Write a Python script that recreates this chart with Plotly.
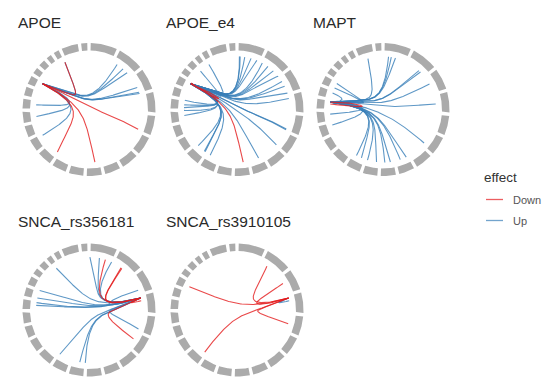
import numpy as np
import plotly.graph_objects as go

# ---------------- data ----------------
CHROMS = [str(i) for i in range(1, 23)] + ["X", "Y"]
CHROM_MB = [249, 243, 198, 191, 181, 171, 159, 146, 141, 136, 135, 134,
            115, 107, 103, 90, 81, 78, 59, 63, 48, 51, 155, 57]

PANELS = ["APOE", "APOE_e4", "MAPT", "SNCA_rs356181", "SNCA_rs3910105"]
# positions on the genome ring, degrees clockwise from 12 o'clock
SOURCE_POS = [299, 299, 278, 77, 77]
SOURCE_CHR = ["19", "19", "17", "4", "4"]

APOE_pos = [32, 40, 46, 65.5, 71, 72.5, 333, 275, 262.5, 241,
            333, 112, 173.6, 216.6]
APOE_eff = ["Up"] * 10 + ["Down"] * 4

APOE_e4_pos = [2.6, 3.4, 8.4, 15.4, 22, 28.5, 35.7, 43.3, 51, 58, 64, 72, 78,
               316.5, 328, 280, 275, 272, 269, 263.5, 227, 217, 218, 210.4,
               156, 132, 111.5, 112.5, 173.3, 300]
APOE_e4_eff = ["Up"] * 28 + ["Down"] * 2

MAPT_pos = [343.5, 6, 9, 13.6, 42.7, 45, 61.3, 84, 129.2, 154, 161, 172, 178,
            187, 197, 204, 210, 299.4, 294, 288, 265, 253, 276]
MAPT_eff = ["Up"] * 22 + ["Down"]

SNCA1_pos = [1, 11.3, 25.2, 68, 111, 322, 291.5, 283, 278, 275, 213.4, 190, 184,
             18, 37.2, 38.2, 123, 80]
SNCA1_eff = ["Up"] * 13 + ["Down"] * 5

SNCA2_pos = [80, 34.4, 60, 105, 296, 217.5]
SNCA2_eff = ["Up"] + ["Down"] * 5

TARGET_POS = [APOE_pos, APOE_e4_pos, MAPT_pos, SNCA1_pos, SNCA2_pos]
TARGET_EFF = [APOE_eff, APOE_e4_eff, MAPT_eff, SNCA1_eff, SNCA2_eff]

EFFECT_COLORS = {"Down": "rgba(228,26,28,0.8)", "Up": "rgba(55,126,184,0.8)"}
LEGEND_LINE = {"Down": "rgba(228,26,28,0.7)", "Up": "rgba(55,126,184,0.7)"}

# ---------------- layout geometry ----------------
# the page body has an 8px margin, so figure pixels = screen pixels - 8
OFF = 8
W, H = 550 - OFF, 384 - OFF
PX_PER_UNIT = 53.0
HALF = 1.3
CENTERS = [(89, 109.5), (237, 109.5), (383, 109.5), (89, 310), (237, 310)]
TITLE_X = [17, 165, 312, 17, 165]
TITLE_Y = [22, 22, 22, 221, 221]
GAP_DEG = 3.0
R_IN, R_OUT = 1.113, 1.255
RC = 0.5
TENSION = 0.8
FONT = "Liberation Sans, Arial, Helvetica, sans-serif"

scale = (360 - GAP_DEG * len(CHROMS)) / sum(CHROM_MB)
cum = np.concatenate([[0], np.cumsum(CHROM_MB)[:-1]])
seg_start = [GAP_DEG / 2 + GAP_DEG * i + cum[i] * scale for i in range(len(CHROMS))]
seg_end = [seg_start[i] + CHROM_MB[i] * scale for i in range(len(CHROMS))]
seg_mid = {CHROMS[i]: (seg_start[i] + seg_end[i]) / 2 for i in range(len(CHROMS))}


def px(sx):
    return (sx - OFF) / W


def py(sy):
    return 1 - (sy - OFF) / H


def pol(r, cw_deg):
    th = np.deg2rad(90 - np.asarray(cw_deg, float))
    return np.stack([r * np.cos(th), r * np.sin(th)], axis=-1)


def chrom_of(pos):
    for i in range(len(CHROMS)):
        if seg_start[i] - GAP_DEG / 2 <= pos < seg_end[i] + GAP_DEG / 2:
            return CHROMS[i]
    return CHROMS[-1]


def bspline(P, k, n=90):
    P = np.asarray(P, float)
    m = len(P)
    k = min(k, m - 1)
    inner = np.linspace(0, 1, m - k + 1)[1:-1]
    t = np.concatenate([np.zeros(k + 1), inner, np.ones(k + 1)])
    u = np.linspace(0, 1, n)
    u[-1] = 1 - 1e-9
    N = np.array([((t[i] <= u) & (u < t[i + 1])).astype(float) for i in range(len(t) - 1)])
    for d in range(1, k + 1):
        Nn = np.zeros((len(t) - 1 - d, n))
        for i in range(len(t) - 1 - d):
            a = t[i + d] - t[i]
            b = t[i + d + 1] - t[i + 1]
            term = np.zeros(n)
            if a > 0:
                term = term + (u - t[i]) / a * N[i]
            if b > 0:
                term = term + (t[i + d + 1] - u) / b * N[i + 1]
            Nn[i] = term
        N = Nn
    return N.T @ P


def edge_path(src_pos, src_chr, tgt_pos):
    S = pol(1.0, src_pos)
    T = pol(1.0, tgt_pos)
    tc = chrom_of(tgt_pos)
    Cs = pol(RC, seg_mid[src_chr])
    if tc == src_chr:
        P = np.array([S, Cs, T])
    else:
        Ct = pol(RC, seg_mid[tc])
        P = np.array([S, Cs, [0.0, 0.0], Ct, T])
    n = len(P)
    lin = np.array([S + (T - S) * i / (n - 1) for i in range(n)])
    P = TENSION * P + (1 - TENSION) * lin
    return bspline(P, 3)


fig = go.Figure()
layout_axes = {}
for p, name in enumerate(PANELS):
    cx, cy = CENTERS[p]
    hw = HALF * PX_PER_UNIT
    xd = [px(cx - hw), px(cx + hw)]
    yd = [py(cy + hw), py(cy - hw)]
    sfx = "" if p == 0 else str(p + 1)
    ax = dict(range=[-HALF, HALF], visible=False, fixedrange=True)
    layout_axes["xaxis" + sfx] = dict(ax, domain=xd)
    layout_axes["yaxis" + sfx] = dict(ax, domain=yd)
    xa, ya = "x" + sfx, "y" + sfx

    # ring segments (one annular sector per chromosome)
    xs, ys = [], []
    for i in range(len(CHROMS)):
        a = np.linspace(seg_start[i], seg_end[i], 30)
        outer = pol(R_OUT, a)
        inner = pol(R_IN, a[::-1])
        poly = np.vstack([outer, inner, outer[:1]])
        xs += list(poly[:, 0]) + [None]
        ys += list(poly[:, 1]) + [None]
    fig.add_trace(go.Scatter(x=xs, y=ys, mode="lines", fill="toself",
                             fillcolor="#ABABAB", line=dict(width=0, color="#ABABAB"),
                             hoverinfo="skip", showlegend=False, xaxis=xa, yaxis=ya))

    # edges: Up first, Down on top
    for eff in ["Up", "Down"]:
        for pos, e in zip(TARGET_POS[p], TARGET_EFF[p]):
            if e != eff:
                continue
            c = edge_path(SOURCE_POS[p], SOURCE_CHR[p], pos)
            fig.add_trace(go.Scatter(x=c[:, 0], y=c[:, 1], mode="lines",
                                     line=dict(color=EFFECT_COLORS[e], width=1.1),
                                     hoverinfo="skip", showlegend=False,
                                     xaxis=xa, yaxis=ya))

    fig.add_annotation(x=px(TITLE_X[p]), y=py(TITLE_Y[p]), xref="paper", yref="paper",
                       text=name, showarrow=False, xanchor="left", yanchor="middle",
                       borderpad=0, font=dict(size=15.5, color="#2A2A2A", family=FONT))

# legend (manual, ggplot style)
fig.add_annotation(x=px(483), y=py(177), xref="paper", yref="paper", text="effect",
                   showarrow=False, xanchor="left", yanchor="middle", borderpad=0,
                   font=dict(size=13.5, color="#333333", family=FONT))
for lab, yy in [("Down", 199.5), ("Up", 220.5)]:
    fig.add_shape(type="line", xref="paper", yref="paper",
                  x0=px(486), x1=px(503), y0=py(yy), y1=py(yy),
                  line=dict(color=LEGEND_LINE[lab], width=1.3))
    fig.add_annotation(x=px(512), y=py(yy), xref="paper", yref="paper", text=lab,
                       showarrow=False, xanchor="left", yanchor="middle", borderpad=0,
                       font=dict(size=11, color="#555555", family=FONT))

fig.update_layout(width=W, height=H, margin=dict(l=0, r=0, t=0, b=0),
                  paper_bgcolor="white", plot_bgcolor="rgba(0,0,0,0)",
                  showlegend=False, **layout_axes)
fig.write_html("out.html")
